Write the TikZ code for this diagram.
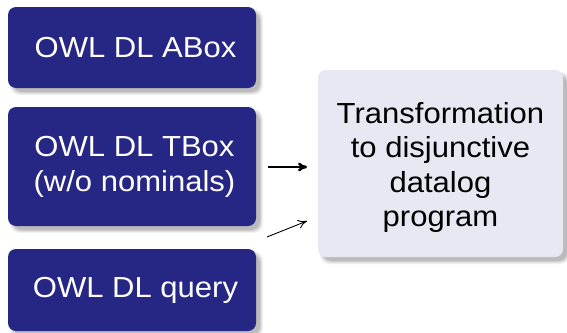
\documentclass[tikz,border=0pt]{standalone}
\usepackage{fontspec}
\setmainfont{Liberation Sans}[FakeStretch=1.07]
\usetikzlibrary{arrows.meta}
\definecolor{boxblue}{RGB}{38,38,132}
\definecolor{boxlight}{RGB}{232,232,243}
\tikzset{
  shadowlayer/.style={fill=black,draw=none,rounded corners=9pt},
  bluebox/.style={fill=boxblue,rounded corners=8pt,draw=none,minimum width=248pt},
  bluetext/.style={text=white,align=center,inner sep=0pt,font=\fontsize{29}{35}\selectfont},
  lightbox/.style={fill=boxlight,rounded corners=8pt,draw=none,
    minimum width=245pt,minimum height=187pt},
  lighttext/.style={text=black,align=center,inner sep=0pt,font=\fontsize{29}{34.5}\selectfont},
  arr/.style={-{To[length=9pt,width=9pt]}}
}
\newcommand{\softshadow}[4]{%
  \foreach \k/\o in {0/0.05,1/0.06,2/0.08,3/0.10}{
    \fill[shadowlayer,opacity=\o] (#1+2+\k,#2+2+\k) rectangle (#3+7-\k,#4+7-\k);
  }%
}
\begin{document}
\begin{tikzpicture}[x=1pt,y=-1pt]
\useasboundingbox (0,0) rectangle (567,332);
\fill[white] (0,0) rectangle (567,332);
% shadows
\softshadow{8}{7}{256}{88}
\softshadow{8}{107}{256}{226}
\softshadow{8}{249}{256}{331}
\softshadow{318}{70}{563}{257}
% boxes
\node[bluebox,minimum height=81pt] (abox) at (132,47.5) {};
\node[bluetext] (aboxt) at ([xshift=3.5pt]abox.center) {OWL DL ABox};
\node[bluebox,minimum height=119pt] (tbox) at (132,166.5) {};
\node[bluetext] (tboxt) at ([xshift=2.5pt,yshift=0pt]tbox.center) {OWL DL TBox\\(w/o nominals)};
\node[bluebox,minimum height=82pt] (query) at (132,290) {};
\node[bluetext] (queryt) at ([xshift=3.5pt]query.center) {OWL DL query};
\node[lightbox] (trans) at (440.5,163.5) {};
\node[lighttext] (transt) at ([yshift=-4pt]trans.center) {Transformation\\to disjunctive\\datalog\\program};
% arrows
\coordinate (a1s) at (268,167);
\coordinate (a1e) at (307,167);
\coordinate (a2s) at (267,237);
\coordinate (a2e) at (307,221);
\draw[arr,line width=2.6pt] (a1s) -- (a1e);
\draw[arr,line width=0.9pt] (a2s) -- (a2e);
\end{tikzpicture}
\end{document}
